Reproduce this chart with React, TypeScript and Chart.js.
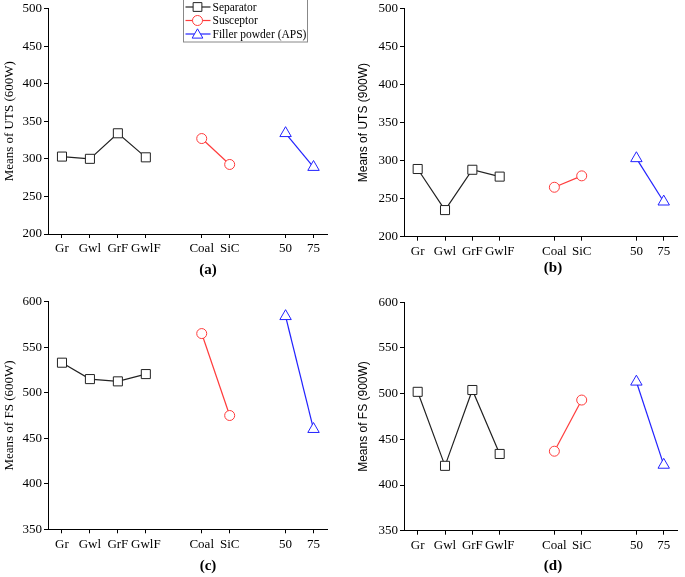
import React, { useEffect, useRef } from 'react';
import { Chart, registerables } from 'chart.js';

Chart.register(...registerables);

// Category slots ('' = empty gap slot between factor groups)
const categories = ['Gr', 'Gwl', 'GrF', 'GwlF', '', 'Coal', 'SiC', '', '50', '75'];

// (a) Means of UTS (600W)
const utsSeparator600 = [303, 300, 334, 302];
const utsSusceptor600 = [327, 292.5];
const utsFiller600 = [334, 289];

// (b) Means of UTS (900W)
const utsSeparator900 = [289, 235, 288, 279];
const utsSusceptor900 = [265, 280];
const utsFiller900 = [303, 246];

// (c) Means of FS (600W)
const fsSeparator600 = [533, 515, 512.5, 520.5];
const fsSusceptor600 = [565, 475];
const fsFiller600 = [584, 460];

// (d) Means of FS (900W)
const fsSeparator900 = [502, 421, 504, 434];
const fsSusceptor900 = [437, 493];
const fsFiller900 = [513, 422];

const seriesNames = ['Separator', 'Susceptor', 'Filler powder (APS)'];
const seriesColors = ['#222222', '#ff3b3b', '#2222ff'];
const seriesStyles = ['rect', 'circle', 'triangle'];
const seriesRadius = [6.4, 5, 6.6];

const SERIF = '"Liberation Serif", "Times New Roman", serif';
const SANS = '"Liberation Sans", Arial, sans-serif';

function buildDatasets(sep: number[], sus: number[], fil: number[]) {
  const sepData: (number | null)[] = categories.map(() => null);
  const susData: (number | null)[] = categories.map(() => null);
  const filData: (number | null)[] = categories.map(() => null);
  sep.forEach((v, i) => (sepData[i] = v));
  sus.forEach((v, i) => (susData[5 + i] = v));
  fil.forEach((v, i) => (filData[8 + i] = v));
  return [sepData, susData, filData].map((data, k) => ({
    label: seriesNames[k],
    data,
    borderColor: seriesColors[k],
    borderWidth: 1.2,
    pointStyle: seriesStyles[k],
    pointRadius: seriesRadius[k],
    pointBorderColor: seriesColors[k],
    pointBorderWidth: 1,
    pointBackgroundColor: '#ffffff',
    spanGaps: false,
    tension: 0,
  }));
}

const panelLabelPlugin = {
  id: 'panelLabel',
  afterDraw(chart: any, _args: any, opts: any) {
    if (!opts || !opts.text) return;
    const ctx = chart.ctx;
    ctx.save();
    ctx.font = `bold 15px ${SERIF}`;
    ctx.fillStyle = '#000';
    ctx.textAlign = 'center';
    ctx.textBaseline = 'middle';
    ctx.fillText(opts.text, opts.x, opts.y);
    ctx.restore();
  },
};

function drawMarker(ctx: CanvasRenderingContext2D, style: string, x: number, y: number, r: number) {
  ctx.beginPath();
  if (style === 'rect') {
    const s = Math.SQRT1_2 * r;
    ctx.rect(x - s, y - s, 2 * s, 2 * s);
  } else if (style === 'circle') {
    ctx.arc(x, y, r, 0, Math.PI * 2);
  } else {
    const hw = Math.sin(Math.PI / 3) * r;
    ctx.moveTo(x, y - r);
    ctx.lineTo(x + hw, y + 0.5 * r);
    ctx.lineTo(x - hw, y + 0.5 * r);
    ctx.closePath();
  }
  ctx.fillStyle = '#fff';
  ctx.fill();
  ctx.stroke();
}

const boxLegendPlugin = {
  id: 'boxLegend',
  afterDraw(chart: any, _args: any, opts: any) {
    if (!opts || !opts.show) return;
    const ctx = chart.ctx as CanvasRenderingContext2D;
    ctx.save();
    ctx.strokeStyle = '#888';
    ctx.lineWidth = 1;
    ctx.strokeRect(opts.x + 0.5, -1, opts.w, opts.h + 1);
    const rows = [opts.y0, opts.y0 + opts.dy, opts.y0 + 2 * opts.dy];
    rows.forEach((yy: number, k: number) => {
      ctx.strokeStyle = seriesColors[k];
      ctx.lineWidth = 1.2;
      ctx.beginPath();
      ctx.moveTo(opts.x + 2.5, yy);
      ctx.lineTo(opts.x + 27.5, yy);
      ctx.stroke();
      ctx.lineWidth = 1;
      drawMarker(ctx, seriesStyles[k], opts.x + 14.5, yy + (seriesStyles[k] === 'triangle' ? 1 : 0), k === 1 ? 5 : 6.2);
      ctx.fillStyle = '#000';
      ctx.font = `11.5px ${SERIF}`;
      ctx.textAlign = 'left';
      ctx.textBaseline = 'middle';
      ctx.fillText(seriesNames[k], opts.x + 29.5, yy + 0.5);
    });
    ctx.restore();
  },
};

type Panel = {
  key: string;
  left: number;
  top: number;
  w: number;
  h: number;
  area: [number, number, number, number]; // left, top, right, bottom
  yMin: number;
  yMax: number;
  title: string;
  titleFont: string;
  titleSize: number;
  titlePad: number;
  label: string;
  labelPos: [number, number];
  series: [number[], number[], number[]];
  legend?: boolean;
};

const panels: Panel[] = [
  {
    key: 'a', left: 0, top: 0, w: 340, h: 290, area: [48, 7, 327.5, 234],
    yMin: 200, yMax: 500, title: 'Means of UTS (600W)', titleFont: SERIF, titleSize: 13, titlePad: 2,
    label: '(a)', labelPos: [208, 270], series: [utsSeparator600, utsSusceptor600, utsFiller600], legend: true,
  },
  {
    key: 'b', left: 340, top: 0, w: 345, h: 290, area: [64, 8.3, 342.3, 236.7],
    yMin: 200, yMax: 500, title: 'Means of UTS (900W)', titleFont: SANS, titleSize: 12, titlePad: 16.5,
    label: '(b)', labelPos: [213, 268], series: [utsSeparator900, utsSusceptor900, utsFiller900],
  },
  {
    key: 'c', left: 0, top: 290, w: 340, h: 287, area: [48, 11.7, 327.5, 239.3],
    yMin: 350, yMax: 600, title: 'Means of FS (600W)', titleFont: SERIF, titleSize: 13, titlePad: 1.7,
    label: '(c)', labelPos: [208, 276], series: [fsSeparator600, fsSusceptor600, fsFiller600],
  },
  {
    key: 'd', left: 340, top: 290, w: 345, h: 287, area: [64, 12.3, 342.3, 240.7],
    yMin: 350, yMax: 600, title: 'Means of FS (900W)', titleFont: SANS, titleSize: 12, titlePad: 16.8,
    label: '(d)', labelPos: [213, 276], series: [fsSeparator900, fsSusceptor900, fsFiller900],
  },
];

function PanelChart({ p }: { p: Panel }) {
  const ref = useRef<HTMLCanvasElement | null>(null);
  useEffect(() => {
    if (!ref.current) return;
    const [aL, aT, aR, aB] = p.area;
    const chart = new Chart(ref.current, {
      type: 'line',
      data: {
        labels: categories,
        datasets: buildDatasets(p.series[0], p.series[1], p.series[2]) as any,
      },
      options: {
        responsive: false,
        animation: false,
        devicePixelRatio: 1,
        layout: { padding: { left: 0, top: aT, right: p.w - aR, bottom: 0 } },
        plugins: {
          legend: { display: false },
          tooltip: { enabled: false },
          panelLabel: { text: p.label, x: p.labelPos[0], y: p.labelPos[1] },
          boxLegend: p.legend ? { show: true, x: 183, w: 124, h: 42, y0: 7, dy: 13.5 } : { show: false },
        } as any,
        scales: {
          x: {
            type: 'category',
            offset: true,
            afterFit: (scale: any) => {
              scale.height = p.h - aB;
            },
            grid: {
              drawOnChartArea: false,
              drawTicks: true,
              tickLength: 4,
              offset: false,
              tickColor: (c: any) => (categories[c.index] ? '#000' : 'rgba(0,0,0,0)'),
            },
            border: { color: '#000', width: 1 },
            ticks: {
              autoSkip: false,
              maxRotation: 0,
              color: '#000',
              padding: 3,
              font: { family: SERIF, size: 13 },
            },
          },
          y: {
            type: 'linear',
            min: p.yMin,
            max: p.yMax,
            afterFit: (scale: any) => {
              scale.width = aL;
            },
            grid: { drawOnChartArea: false, drawTicks: true, tickLength: 4, tickColor: '#000' },
            border: { color: '#000', width: 1 },
            ticks: {
              stepSize: 50,
              color: '#000',
              padding: 2,
              font: { family: SERIF, size: 13, lineHeight: 1 },
            },
            title: {
              display: true,
              text: p.title,
              color: '#000',
              padding: { top: p.titlePad, bottom: 0 },
              font: { family: p.titleFont, size: p.titleSize, lineHeight: 1.2 },
            },
          },
        },
      } as any,
      plugins: [panelLabelPlugin, boxLegendPlugin],
    });
    return () => chart.destroy();
  }, [p]);
  return (
    <div style={{ position: 'absolute', left: p.left, top: p.top, width: p.w, height: p.h }}>
      <canvas ref={ref} width={p.w} height={p.h} style={{ width: p.w, height: p.h, display: 'block' }} />
    </div>
  );
}

export default function App() {
  return (
    <div style={{ position: 'absolute', left: 0, top: 0, width: 685, height: 577, background: '#fff', overflow: 'hidden' }}>
      {panels.map((p) => (
        <PanelChart key={p.key} p={p} />
      ))}
    </div>
  );
}
